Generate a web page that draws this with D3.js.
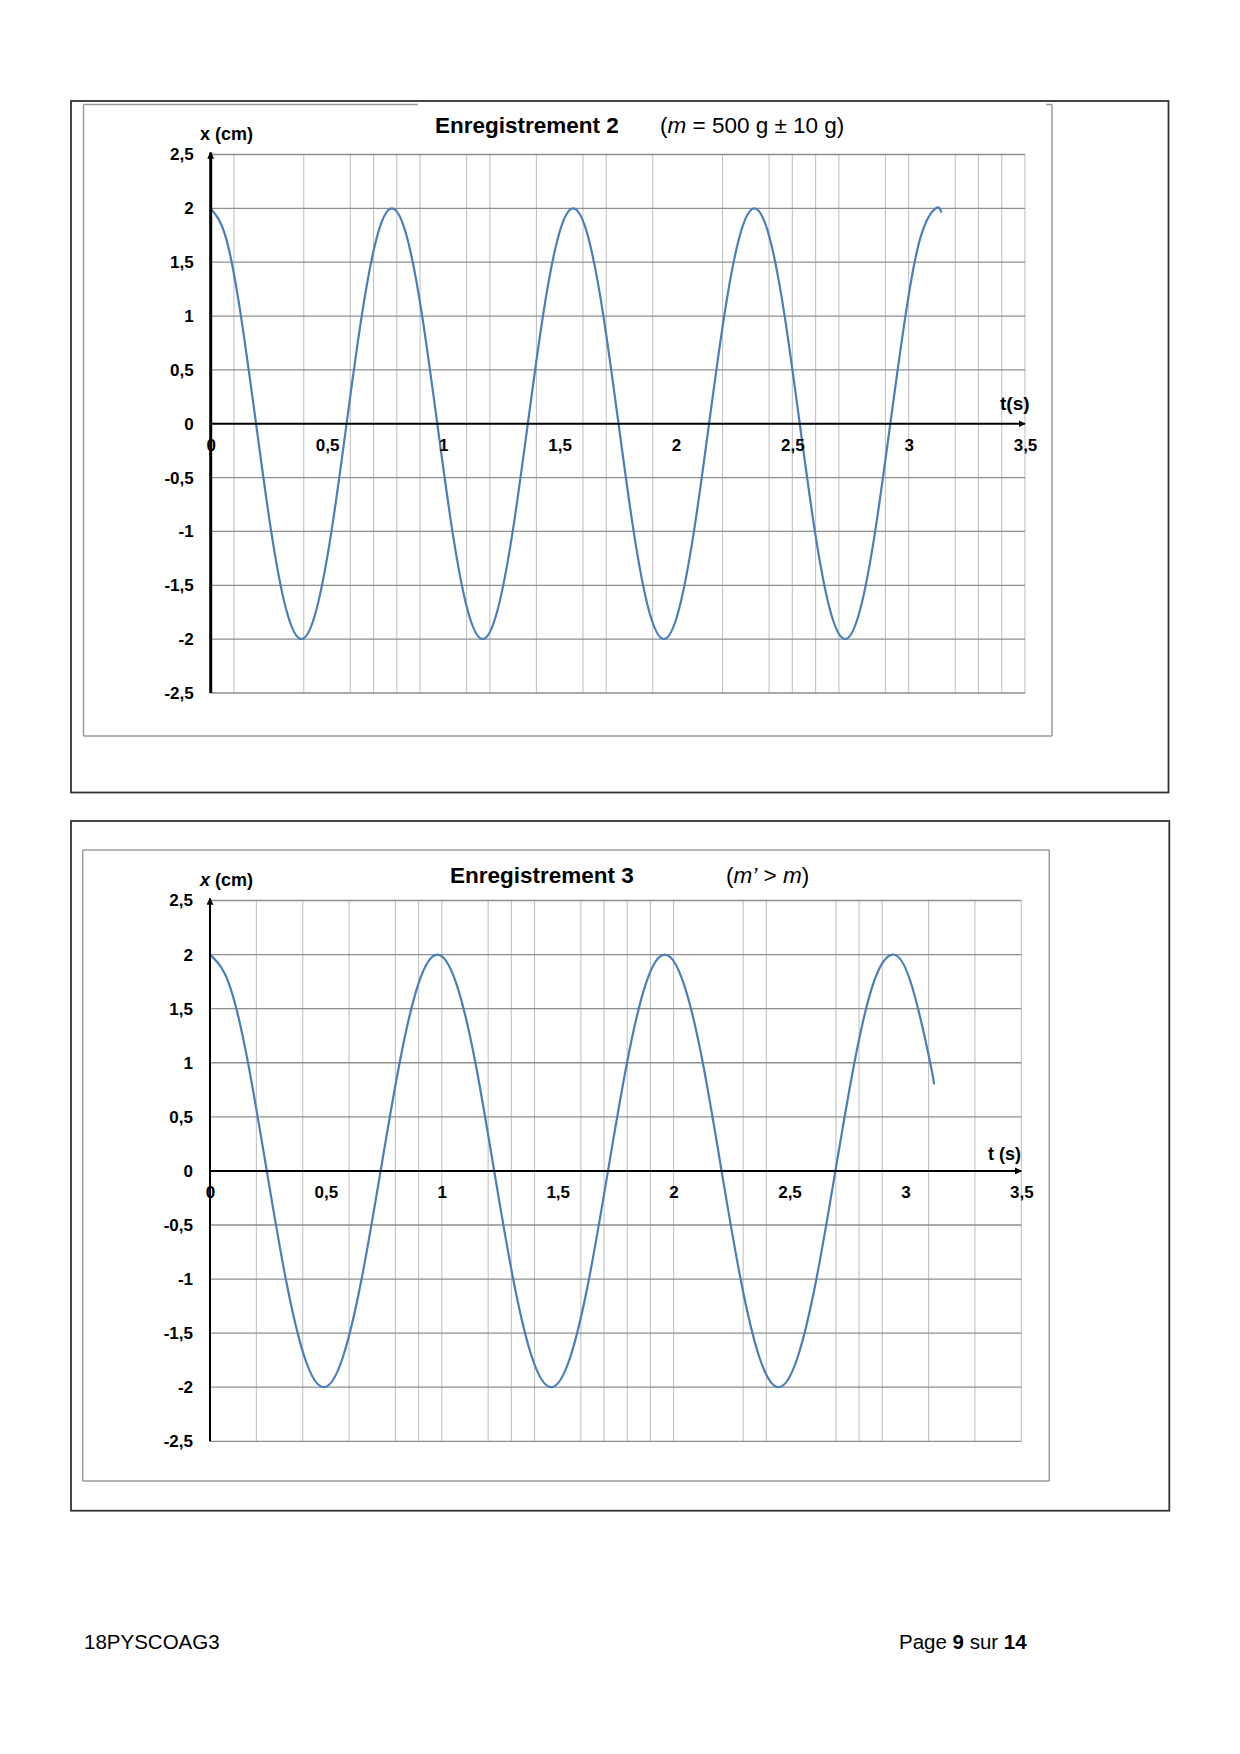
<!DOCTYPE html>
<html>
<head>
<meta charset="utf-8">
<script src="https://cdn.jsdelivr.net/npm/d3@7"></script>
<style>
  body { margin: 0; background: #fff; }
  svg { font-family: "Liberation Sans", Arial, sans-serif; }
</style>
</head>
<body>
<svg id="page" width="1240" height="1754"></svg>
<script>
// axis ticks (shared by both recordings)
var tTicks = [0, 0.5, 1, 1.5, 2, 2.5, 3, 3.5];
var tTickLabels = ["0", "0,5", "1", "1,5", "2", "2,5", "3", "3,5"];
var xTicks = [2.5, 2, 1.5, 1, 0.5, 0, -0.5, -1, -1.5, -2, -2.5];
var xTickLabels = ["2,5", "2", "1,5", "1", "0,5", "0", "-0,5", "-1", "-1,5", "-2", "-2,5"];

// vertical grid lines (t in s) as they appear on each recording
var grid2 = [0.1, 0.4, 0.6, 0.7, 0.8, 0.9, 1.1, 1.2, 1.4, 1.6, 1.7, 1.9, 2.2, 2.4, 2.5, 2.6, 2.7, 2.9, 3.0, 3.2, 3.3, 3.4, 3.5];
var grid3 = [0.2, 0.4, 0.6, 0.8, 0.9, 1.0, 1.2, 1.3, 1.4, 1.6, 1.7, 1.8, 1.9, 2.0, 2.3, 2.4, 2.7, 2.8, 2.9, 3.1, 3.3, 3.5];

// Enregistrement 2 : t (s) and x (cm)
var t2 = [0.000, 0.065, 0.130, 0.195, 0.260, 0.325, 0.390, 0.454, 0.519, 0.584, 0.649, 0.714,
  0.779, 0.844, 0.909, 0.974, 1.039, 1.104, 1.169, 1.233, 1.298, 1.363, 1.428, 1.493,
  1.558, 1.623, 1.688, 1.753, 1.818, 1.883, 1.948, 2.012, 2.077, 2.142, 2.207, 2.272,
  2.337, 2.402, 2.467, 2.532, 2.597, 2.662, 2.727, 2.791, 2.856, 2.921, 2.986, 3.051,
  3.116, 3.141];
var x2 = [2.00, 1.73, 1.00, 0.00, -1.00, -1.73, -2.00, -1.73, -1.00, 0.00, 1.00, 1.73,
  2.00, 1.73, 1.00, 0.00, -1.00, -1.73, -2.00, -1.73, -1.00, 0.00, 1.00, 1.73,
  2.00, 1.73, 1.00, 0.00, -1.00, -1.73, -2.00, -1.73, -1.00, 0.00, 1.00, 1.73,
  2.00, 1.73, 1.00, 0.00, -1.00, -1.73, -2.00, -1.73, -1.00, 0.00, 1.00, 1.73,
  2.00, 1.96];

// Enregistrement 3 : t (s) and x (cm)
var t3 = [0.000, 0.082, 0.164, 0.245, 0.327, 0.409, 0.491, 0.572, 0.654, 0.736, 0.818, 0.899,
  0.981, 1.063, 1.145, 1.226, 1.308, 1.390, 1.472, 1.553, 1.635, 1.717, 1.799, 1.880,
  1.962, 2.044, 2.126, 2.207, 2.289, 2.371, 2.453, 2.534, 2.616, 2.698, 2.780, 2.861,
  2.943, 3.025, 3.107, 3.123];
var x3 = [2.00, 1.73, 1.00, 0.00, -1.00, -1.73, -2.00, -1.73, -1.00, 0.00, 1.00, 1.73,
  2.00, 1.73, 1.00, 0.00, -1.00, -1.73, -2.00, -1.73, -1.00, 0.00, 1.00, 1.73,
  2.00, 1.73, 1.00, 0.00, -1.00, -1.73, -2.00, -1.73, -1.00, 0.00, 1.00, 1.73,
  2.00, 1.73, 1.00, 0.80];

var svg = d3.select("#page");
var blue = "#4a7ebb";

svg.append("defs").append("marker")
  .attr("id", "arrow")
  .attr("viewBox", "0 0 10 10")
  .attr("refX", 9).attr("refY", 5)
  .attr("markerWidth", 7).attr("markerHeight", 7)
  .attr("markerUnits", "userSpaceOnUse")
  .attr("orient", "auto")
  .append("path")
    .attr("d", "M0,0 L10,5 L0,10 Z")
    .attr("fill", "#000");

function drawChart(c) {
  var g = svg.append("g");

  // outer frame
  g.append("rect")
    .attr("x", c.outer[0]).attr("y", c.outer[1])
    .attr("width", c.outer[2] - c.outer[0]).attr("height", c.outer[3] - c.outer[1])
    .attr("fill", "none").attr("stroke", "#333").attr("stroke-width", 1.8);

  // chart area frame (the top edge is broken on the first one)
  var ib = c.inner;
  var frame = [[ib[0], ib[1], ib[0], ib[3]], [ib[0], ib[3], ib[2], ib[3]], [ib[2], ib[3], ib[2], ib[1]]]
    .concat(c.innerTop.map(function(s) { return [s[0], ib[1], s[1], ib[1]]; }));
  g.selectAll(".frame")
    .data(frame)
    .enter().append("line")
      .attr("x1", function(d) { return d[0]; }).attr("y1", function(d) { return d[1]; })
      .attr("x2", function(d) { return d[2]; }).attr("y2", function(d) { return d[3]; })
      .attr("stroke", "#9a9a9a").attr("stroke-width", 1.5);

  var x = d3.scaleLinear().domain([0, 3.5]).range([c.plot[0], c.plot[2]]);
  var y = d3.scaleLinear().domain([-2.5, 2.5]).range([c.plot[3], c.plot[1]]);

  // vertical grid
  g.selectAll(".vgrid")
    .data(c.grid)
    .enter().append("line")
      .attr("x1", function(d) { return x(d); }).attr("x2", function(d) { return x(d); })
      .attr("y1", y(2.5)).attr("y2", y(-2.5))
      .attr("stroke", "#c2c2c2").attr("stroke-width", 1.1);

  // horizontal grid
  g.selectAll(".hgrid")
    .data(xTicks.filter(function(d) { return d !== 0; }))
    .enter().append("line")
      .attr("x1", x(0)).attr("x2", x(3.5))
      .attr("y1", function(d) { return y(d); }).attr("y2", function(d) { return y(d); })
      .attr("stroke", "#8e8e8e").attr("stroke-width", 1.3);

  // the recorded curve
  var line = d3.line()
    .x(function(d) { return x(d[0]); })
    .y(function(d) { return y(d[1]); })
    .curve(d3.curveNatural);
  g.append("path")
    .datum(c.t.map(function(t, i) { return [t, c.x[i]]; }))
    .attr("d", line)
    .attr("fill", "none").attr("stroke", blue).attr("stroke-width", 2.2);

  // axes with arrows
  g.append("line")
    .attr("x1", x(0)).attr("x2", x(0))
    .attr("y1", y(-2.5)).attr("y2", y(2.5) - 2)
    .attr("stroke", "#000").attr("stroke-width", c.yAxisWidth)
    .attr("marker-end", "url(#arrow)");
  g.append("line")
    .attr("x1", x(0)).attr("x2", x(3.5))
    .attr("y1", y(0)).attr("y2", y(0))
    .attr("stroke", "#000").attr("stroke-width", 2)
    .attr("marker-end", "url(#arrow)");

  // tick labels
  var yAxis = g.append("g")
    .attr("transform", "translate(" + x(0) + ",0)")
    .call(d3.axisLeft(y).tickValues(xTicks)
      .tickFormat(function(d, i) { return xTickLabels[i]; })
      .tickSize(0).tickPadding(17));
  var xAxis = g.append("g")
    .attr("transform", "translate(0," + y(0) + ")")
    .call(d3.axisBottom(x).tickValues(tTicks)
      .tickFormat(function(d, i) { return tTickLabels[i]; })
      .tickSize(0).tickPadding(15));
  [yAxis, xAxis].forEach(function(a) {
    a.select(".domain").remove();
    a.selectAll("text")
      .attr("fill", "#000")
      .style("font-size", "17px")
      .style("font-weight", "bold")
      .style("font-family", "'Liberation Sans', Arial, sans-serif");
  });

  // axis names
  var xl = g.append("text")
    .attr("x", c.xLabel[0]).attr("y", c.xLabel[1])
    .style("font-size", "18px").style("font-weight", "bold");
  xl.append("tspan").text("x").style("font-style", c.italicX ? "italic" : "normal");
  xl.append("tspan").text(" (cm)");

  g.append("text")
    .attr("x", c.tLabel[0]).attr("y", c.tLabel[1])
    .style("font-size", c.tLabelSize).style("font-weight", "bold")
    .text(c.tText);

  // title
  g.append("text")
    .attr("x", c.title[0]).attr("y", c.title[1])
    .style("font-size", "22.5px").style("font-weight", "bold")
    .text(c.titleText);
  var sub = g.append("text")
    .attr("x", c.sub[0]).attr("y", c.title[1])
    .style("font-size", "22.5px");
  c.subParts.forEach(function(p) {
    sub.append("tspan").text(p[0]).style("font-style", p[1] ? "italic" : "normal");
  });
}

drawChart({
  outer: [71, 101, 1168.5, 792.5],
  inner: [83.5, 104.5, 1052, 736],
  innerTop: [[83.5, 418], [1046, 1052]],
  plot: [210.7, 154.5, 1025, 693],
  grid: grid2, t: t2, x: x2,
  yAxisWidth: 3,
  xLabel: [200, 140], italicX: false,
  tLabel: [1000, 410], tLabelSize: "19px", tText: "t(s)",
  title: [435, 133], titleText: "Enregistrement 2",
  sub: [660, 133], subParts: [["(", false], ["m", true], [" = 500 g \u00b1 10 g)", false]]
});

drawChart({
  outer: [71, 821, 1169.3, 1510.7],
  inner: [82.7, 850, 1049.3, 1481],
  innerTop: [[82.7, 1049.3]],
  plot: [210, 900.5, 1021.3, 1441.3],
  grid: grid3, t: t3, x: x3,
  yAxisWidth: 2,
  xLabel: [200, 886], italicX: true,
  tLabel: [988, 1160], tLabelSize: "18px", tText: "t (s)",
  title: [450, 883], titleText: "Enregistrement 3",
  sub: [726, 883], subParts: [["(", false], ["m\u2019", true], [" > ", false], ["m", true], [")", false]]
});

// page footer
svg.append("text")
  .attr("x", 84).attr("y", 1649)
  .style("font-size", "20.5px")
  .text("18PYSCOAG3");
var pg = svg.append("text")
  .attr("x", 899).attr("y", 1649)
  .style("font-size", "20.5px");
pg.append("tspan").text("Page ");
pg.append("tspan").text("9").style("font-weight", "bold");
pg.append("tspan").text(" sur ");
pg.append("tspan").text("14").style("font-weight", "bold");
</script>
</body>
</html>
